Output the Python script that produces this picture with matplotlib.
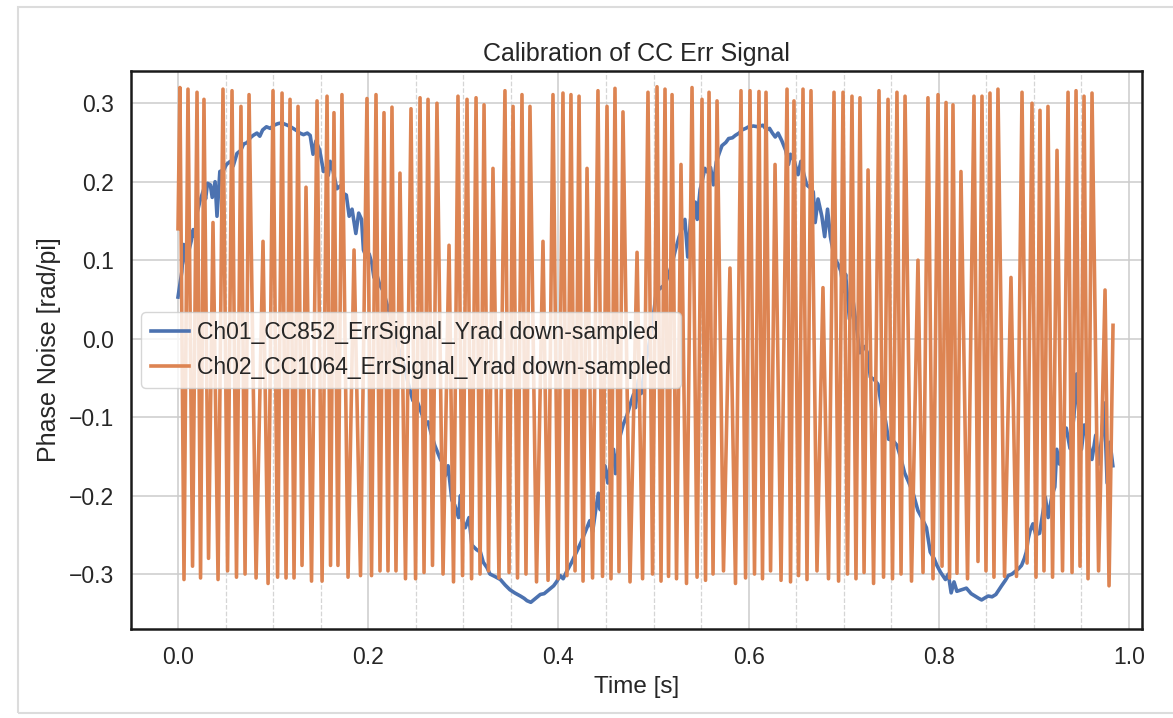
import numpy as np
import matplotlib
matplotlib.use("Agg")
import matplotlib.pyplot as plt
from matplotlib.ticker import MultipleLocator
from matplotlib.patches import Rectangle

plt.rcParams['font.family'] = ['Liberation Sans', 'DejaVu Sans']

# Ch01 (blue)
blue_t = [0.000, 0.004, 0.006, 0.009, 0.011, 0.014, 0.016, 0.018, 0.020, 0.023,
          0.027, 0.029, 0.031, 0.034, 0.036, 0.039, 0.041, 0.044, 0.048, 0.051,
          0.055, 0.058, 0.062, 0.066, 0.069, 0.073, 0.076, 0.079, 0.083, 0.086,
          0.089, 0.093, 0.097, 0.101, 0.105, 0.109, 0.113, 0.117, 0.121, 0.125,
          0.128, 0.132, 0.136, 0.139, 0.142, 0.145, 0.149, 0.153, 0.156, 0.158,
          0.160, 0.163, 0.167, 0.171, 0.174, 0.177, 0.180, 0.183, 0.187, 0.190,
          0.193, 0.195, 0.198, 0.201, 0.204, 0.206, 0.209, 0.212, 0.216, 0.219,
          0.223, 0.227, 0.230, 0.234, 0.238, 0.241, 0.244, 0.247, 0.250, 0.254,
          0.257, 0.260, 0.263, 0.266, 0.270, 0.273, 0.276, 0.279, 0.281, 0.284,
          0.288, 0.291, 0.295, 0.297, 0.299, 0.302, 0.306, 0.309, 0.314, 0.318,
          0.321, 0.325, 0.328, 0.333, 0.339, 0.344, 0.349, 0.354, 0.360, 0.364,
          0.367, 0.371, 0.374, 0.378, 0.381, 0.385, 0.388, 0.392, 0.395, 0.398,
          0.402, 0.405, 0.409, 0.414, 0.419, 0.424, 0.427, 0.430, 0.433, 0.436,
          0.439, 0.442, 0.444, 0.447, 0.449, 0.452, 0.455, 0.458, 0.460, 0.464,
          0.468, 0.472, 0.476, 0.479, 0.481, 0.484, 0.487, 0.491, 0.495, 0.499,
          0.503, 0.507, 0.512, 0.516, 0.520, 0.523, 0.527, 0.530, 0.533, 0.536,
          0.539, 0.542, 0.544, 0.546, 0.549, 0.551, 0.554, 0.557, 0.560, 0.563,
          0.566, 0.569, 0.572, 0.576, 0.579, 0.583, 0.586, 0.590, 0.593, 0.597,
          0.600, 0.605, 0.610, 0.615, 0.619, 0.622, 0.625, 0.628, 0.631, 0.635,
          0.639, 0.642, 0.644, 0.648, 0.652, 0.655, 0.658, 0.661, 0.665, 0.668,
          0.670, 0.673, 0.677, 0.680, 0.683, 0.686, 0.690, 0.694, 0.697, 0.700,
          0.702, 0.706, 0.710, 0.714, 0.717, 0.722, 0.725, 0.728, 0.732, 0.736,
          0.740, 0.744, 0.747, 0.752, 0.756, 0.760, 0.764, 0.768, 0.773, 0.778,
          0.782, 0.787, 0.791, 0.795, 0.798, 0.802, 0.807, 0.810, 0.813, 0.816,
          0.819, 0.824, 0.829, 0.834, 0.838, 0.842, 0.845, 0.849, 0.852, 0.856,
          0.860, 0.866, 0.870, 0.873, 0.877, 0.880, 0.884, 0.887, 0.890, 0.892,
          0.894, 0.896, 0.899, 0.902, 0.906, 0.909, 0.912, 0.915, 0.919, 0.922,
          0.924, 0.927, 0.931, 0.934, 0.938, 0.942, 0.945, 0.948, 0.950, 0.953,
          0.957, 0.961, 0.965, 0.968, 0.971, 0.974, 0.977, 0.980, 0.983]
blue_v = [0.053, 0.085, 0.120, 0.095, 0.110, 0.125, 0.139, 0.130, 0.160, 0.175,
          0.190, 0.178, 0.198, 0.196, 0.180, 0.200, 0.156, 0.213, 0.215, 0.222,
          0.226, 0.220, 0.236, 0.240, 0.248, 0.250, 0.256, 0.259, 0.262, 0.258,
          0.266, 0.270, 0.268, 0.272, 0.274, 0.275, 0.273, 0.271, 0.268, 0.265,
          0.262, 0.260, 0.262, 0.259, 0.235, 0.252, 0.240, 0.213, 0.218, 0.208,
          0.226, 0.214, 0.191, 0.195, 0.185, 0.183, 0.156, 0.165, 0.134, 0.160,
          0.152, 0.113, 0.104, 0.108, 0.095, 0.078, 0.082, 0.069, 0.060, 0.047,
          0.030, 0.010, -0.005, -0.020, -0.035, -0.052, -0.066, -0.079, -0.075, -0.088,
          -0.098, -0.110, -0.106, -0.120, -0.136, -0.145, -0.154, -0.160, -0.175, -0.162,
          -0.206, -0.212, -0.228, -0.200, -0.232, -0.241, -0.228, -0.263, -0.269, -0.272,
          -0.285, -0.292, -0.300, -0.303, -0.307, -0.314, -0.320, -0.324, -0.328, -0.331,
          -0.334, -0.336, -0.333, -0.329, -0.326, -0.325, -0.322, -0.318, -0.315, -0.310,
          -0.302, -0.306, -0.296, -0.285, -0.272, -0.259, -0.250, -0.241, -0.232, -0.246,
          -0.220, -0.197, -0.218, -0.180, -0.162, -0.184, -0.155, -0.141, -0.172, -0.128,
          -0.110, -0.098, -0.082, -0.071, -0.088, -0.053, -0.070, -0.036, -0.010, 0.020,
          0.060, 0.064, 0.069, 0.082, 0.098, 0.113, 0.130, 0.140, 0.152, 0.104,
          0.152, 0.165, 0.174, 0.152, 0.190, 0.200, 0.217, 0.212, 0.218, 0.196,
          0.225, 0.236, 0.246, 0.250, 0.255, 0.256, 0.259, 0.262, 0.266, 0.268,
          0.270, 0.271, 0.270, 0.272, 0.266, 0.268, 0.262, 0.257, 0.262, 0.252,
          0.240, 0.222, 0.235, 0.226, 0.209, 0.226, 0.210, 0.196, 0.192, 0.187,
          0.148, 0.178, 0.156, 0.130, 0.165, 0.130, 0.104, 0.095, 0.086, 0.060,
          0.082, 0.025, 0.047, 0.010, -0.018, -0.010, -0.018, -0.049, -0.052, -0.058,
          -0.088, -0.105, -0.128, -0.130, -0.136, -0.152, -0.171, -0.182, -0.197, -0.219,
          -0.228, -0.241, -0.272, -0.280, -0.289, -0.298, -0.307, -0.300, -0.324, -0.310,
          -0.322, -0.320, -0.318, -0.325, -0.328, -0.331, -0.333, -0.330, -0.328, -0.329,
          -0.326, -0.315, -0.308, -0.302, -0.300, -0.297, -0.293, -0.289, -0.280, -0.272,
          -0.255, -0.245, -0.236, -0.250, -0.248, -0.225, -0.202, -0.228, -0.200, -0.189,
          -0.141, -0.160, -0.119, -0.114, -0.140, -0.100, -0.045, -0.110, -0.141, -0.110,
          -0.130, -0.154, -0.123, -0.160, -0.130, -0.082, -0.184, -0.132, -0.162]

# Ch02 (orange) - peaks and troughs
orange_start = (0.0, 0.140)
orange_peak_t = [0.0020, 0.0105, 0.0200, 0.0273, 0.0368, 0.0473, 0.0568, 0.0662, 0.0747, 0.0894,
                 0.0999, 0.1094, 0.1178, 0.1262, 0.1346, 0.1462, 0.1567, 0.1640, 0.1724, 0.1851,
                 0.1987, 0.2082, 0.2166, 0.2250, 0.2334, 0.2450, 0.2545, 0.2629, 0.2723, 0.2850,
                 0.2944, 0.3039, 0.3134, 0.3218, 0.3312, 0.3438, 0.3523, 0.3617, 0.3701, 0.3838,
                 0.3943, 0.4048, 0.4132, 0.4217, 0.4301, 0.4416, 0.4511, 0.4595, 0.4679, 0.4827,
                 0.4942, 0.5037, 0.5121, 0.5195, 0.5289, 0.5405, 0.5510, 0.5584, 0.5668, 0.5804,
                 0.5920, 0.6015, 0.6109, 0.6183, 0.6278, 0.6404, 0.6477, 0.6572, 0.6656, 0.6782,
                 0.6898, 0.6993, 0.7087, 0.7171, 0.7256, 0.7371, 0.7466, 0.7560, 0.7645, 0.7781,
                 0.7886, 0.7992, 0.8076, 0.8149, 0.8233, 0.8370, 0.8454, 0.8538, 0.8622, 0.8759,
                 0.8875, 0.8980, 0.9064, 0.9148, 0.9243, 0.9359, 0.9443, 0.9527, 0.9611, 0.9748,
                 0.9832]
orange_peak_v = [0.320, 0.318, 0.314, 0.305, 0.148, 0.318, 0.316, 0.296, 0.311, 0.124,
                 0.316, 0.313, 0.305, 0.296, 0.193, 0.303, 0.309, 0.288, 0.311, 0.113,
                 0.306, 0.311, 0.288, 0.295, 0.211, 0.293, 0.307, 0.305, 0.300, 0.119,
                 0.309, 0.305, 0.307, 0.298, 0.217, 0.316, 0.296, 0.311, 0.296, 0.124,
                 0.311, 0.313, 0.311, 0.309, 0.217, 0.316, 0.296, 0.319, 0.289, 0.110,
                 0.314, 0.321, 0.318, 0.311, 0.222, 0.320, 0.305, 0.314, 0.303, 0.090,
                 0.316, 0.316, 0.315, 0.314, 0.222, 0.318, 0.303, 0.318, 0.316, 0.065,
                 0.314, 0.314, 0.309, 0.307, 0.215, 0.316, 0.305, 0.314, 0.309, 0.100,
                 0.307, 0.311, 0.301, 0.298, 0.213, 0.309, 0.309, 0.313, 0.318, 0.078,
                 0.314, 0.300, 0.291, 0.296, 0.240, 0.314, 0.316, 0.309, 0.313, 0.062,
                 0.017]
orange_trough_t = [0.0063, 0.0153, 0.0237, 0.0321, 0.0421, 0.0521, 0.0615, 0.0705, 0.0821, 0.0947,
                   0.1047, 0.1136, 0.1220, 0.1304, 0.1404, 0.1515, 0.1604, 0.1682, 0.1788, 0.1919,
                   0.2035, 0.2124, 0.2208, 0.2292, 0.2392, 0.2498, 0.2587, 0.2676, 0.2787, 0.2897,
                   0.2992, 0.3087, 0.3176, 0.3265, 0.3375, 0.3481, 0.3570, 0.3659, 0.3770, 0.3891,
                   0.3996, 0.4090, 0.4175, 0.4259, 0.4359, 0.4464, 0.4553, 0.4637, 0.4753, 0.4885,
                   0.4990, 0.5079, 0.5158, 0.5242, 0.5347, 0.5458, 0.5547, 0.5626, 0.5736, 0.5862,
                   0.5968, 0.6062, 0.6146, 0.6231, 0.6341, 0.6441, 0.6525, 0.6614, 0.6719, 0.6840,
                   0.6946, 0.7040, 0.7129, 0.7214, 0.7314, 0.7419, 0.7513, 0.7603, 0.7713, 0.7834,
                   0.7939, 0.8034, 0.8113, 0.8191, 0.8302, 0.8412, 0.8496, 0.8580, 0.8691, 0.8817,
                   0.8928, 0.9022, 0.9106, 0.9196, 0.9301, 0.9401, 0.9485, 0.9569, 0.9680, 0.9790]
orange_trough_v = [-0.307, -0.290, -0.305, -0.280, -0.307, -0.296, -0.304, -0.300, -0.305, -0.312,
                   -0.304, -0.305, -0.305, -0.289, -0.309, -0.309, -0.289, -0.289, -0.304, -0.302,
                   -0.302, -0.296, -0.296, -0.296, -0.306, -0.306, -0.298, -0.289, -0.300, -0.310,
                   -0.302, -0.306, -0.300, -0.296, -0.305, -0.298, -0.305, -0.300, -0.310, -0.308,
                   -0.306, -0.302, -0.296, -0.309, -0.305, -0.303, -0.306, -0.297, -0.310, -0.306,
                   -0.300, -0.309, -0.303, -0.306, -0.312, -0.304, -0.308, -0.300, -0.296, -0.312,
                   -0.305, -0.300, -0.306, -0.296, -0.308, -0.310, -0.302, -0.307, -0.296, -0.306,
                   -0.309, -0.300, -0.306, -0.298, -0.312, -0.304, -0.306, -0.300, -0.309, -0.298,
                   -0.306, -0.290, -0.305, -0.299, -0.306, -0.284, -0.296, -0.304, -0.303, -0.303,
                   -0.286, -0.304, -0.296, -0.304, -0.296, -0.298, -0.290, -0.306, -0.296, -0.315]

# interleave peaks and troughs into one trace
orange_t = [orange_start[0]]
orange_v = [orange_start[1]]
for i in range(len(orange_peak_t)):
    orange_t.append(orange_peak_t[i])
    orange_v.append(orange_peak_v[i])
    if i < len(orange_trough_t):
        orange_t.append(orange_trough_t[i])
        orange_v.append(orange_trough_v[i])

fig = plt.figure(figsize=(11.73, 7.18), dpi=100)
ax = fig.add_axes([0.1117, 0.124, 0.8619, 0.777])

ax.plot(blue_t, blue_v, color='#4c72b0', lw=2.6,
        label='Ch01_CC852_ErrSignal_Yrad down-sampled')
ax.plot(orange_t, orange_v, color='#dd8452', lw=2.6,
        label='Ch02_CC1064_ErrSignal_Yrad down-sampled')

ax.set_xlim(-0.0494, 1.0137)
ax.set_ylim(-0.370, 0.341)
ax.xaxis.set_major_locator(MultipleLocator(0.2))
ax.xaxis.set_minor_locator(MultipleLocator(0.05))
ax.yaxis.set_major_locator(MultipleLocator(0.1))

ax.grid(which='major', color='#cccccc', lw=1.1)
ax.grid(which='minor', axis='x', color='#d5d5d5', lw=0.9, ls='--')
ax.set_axisbelow(True)
ax.tick_params(which='both', length=0, pad=12, labelsize=16.5, labelcolor='#262626')
for s in ax.spines.values():
    s.set_color('#1a1a1a')
    s.set_linewidth(1.8)

ax.set_title('Calibration of CC Err Signal', fontsize=18, color='#262626', pad=7)
ax.set_xlabel('Time [s]', fontsize=17.5, color='#262626', labelpad=5)
ax.set_ylabel('Phase Noise [rad/pi]', fontsize=18, color='#262626', labelpad=6)

leg = ax.legend(loc='center left', fontsize=16.5, framealpha=0.8,
                edgecolor='#cccccc', handlelength=1.7, handletextpad=0.35,
                borderaxespad=0.45)
for t in leg.get_texts():
    t.set_color('#262626')

# light frame of the screenshot
fig.add_artist(Rectangle((0.0153, 0.007), 1.0, 0.983, transform=fig.transFigure,
                         fill=False, edgecolor='#dcdcdc', lw=1.5))

fig.savefig('out.png', dpi=100)
